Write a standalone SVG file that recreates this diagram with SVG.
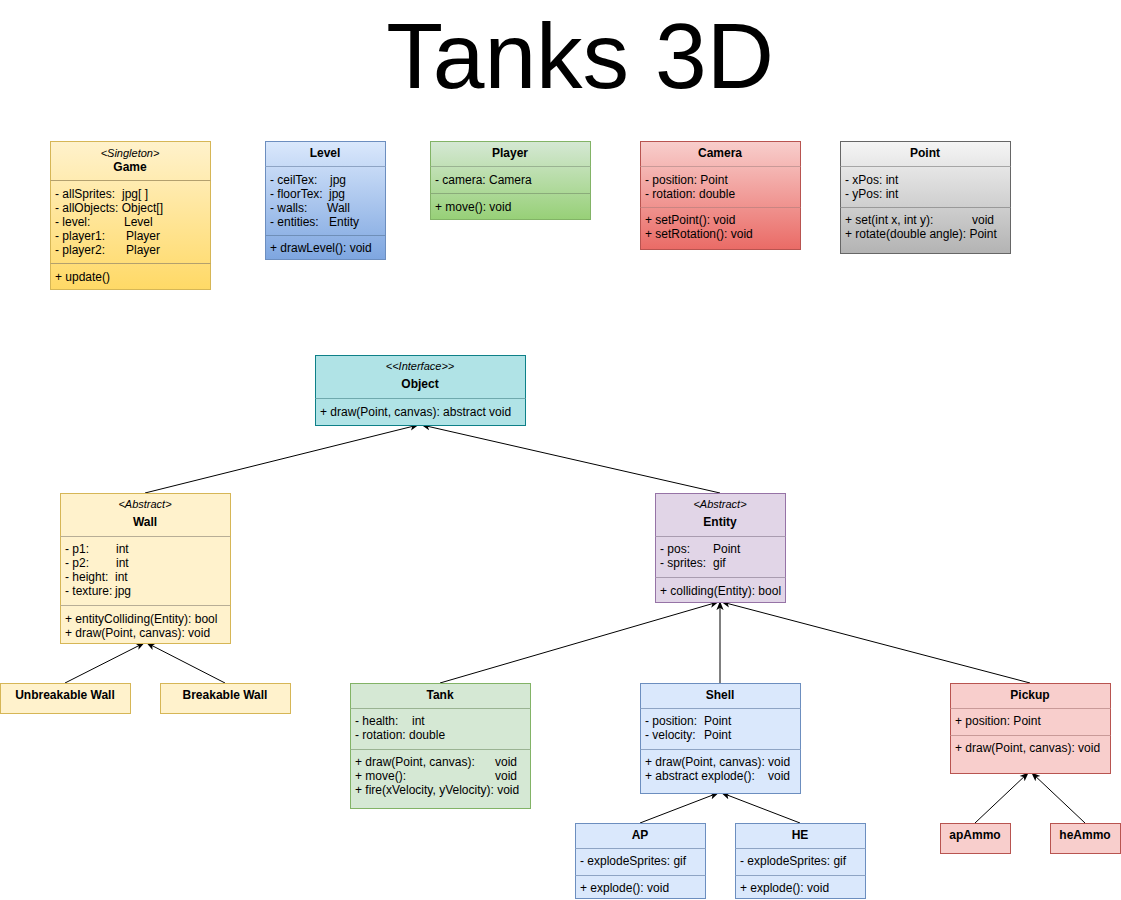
<svg xmlns="http://www.w3.org/2000/svg" width="1121" height="900" viewBox="0 0 1121 900">
<style>
text{font-family:"Liberation Sans",Arial,sans-serif;font-size:12px;fill:#000}
.t{font-size:93px}
.b{font-weight:bold;text-anchor:middle}
.s{font-style:italic;font-size:11px;text-anchor:middle}
.d{fill:none;stroke-width:1}
.c{stroke:#000;stroke-width:1;fill:none;marker-end:url(#arr)}
</style>
<defs>
<marker id="arr" viewBox="0 0 10 10" refX="9" refY="5" markerWidth="9" markerHeight="9" orient="auto" markerUnits="userSpaceOnUse">
<path d="M0,1 L10,5 L0,9 L2.5,5 Z" fill="#000"/>
</marker>
<linearGradient id="gY" x1="0" y1="0" x2="0" y2="1"><stop offset="0" stop-color="#fff2cc"/><stop offset="1" stop-color="#ffd966"/></linearGradient>
<linearGradient id="gB" x1="0" y1="0" x2="0" y2="1"><stop offset="0" stop-color="#dae8fc"/><stop offset="1" stop-color="#7ea6e0"/></linearGradient>
<linearGradient id="gG" x1="0" y1="0" x2="0" y2="1"><stop offset="0" stop-color="#d5e8d4"/><stop offset="1" stop-color="#97d077"/></linearGradient>
<linearGradient id="gR" x1="0" y1="0" x2="0" y2="1"><stop offset="0" stop-color="#f8cecc"/><stop offset="1" stop-color="#ea6b66"/></linearGradient>
<linearGradient id="gW" x1="0" y1="0" x2="0" y2="1"><stop offset="0" stop-color="#f5f5f5"/><stop offset="1" stop-color="#b3b3b3"/></linearGradient>
</defs>
<rect width="1121" height="900" fill="#fff"/>
<text class="t" x="580" y="88" text-anchor="middle">Tanks 3D</text>

<g id="connectors">
<line class="c" x1="145" y1="493" x2="418" y2="425"/>
<line class="c" x1="720" y1="493" x2="422" y2="425"/>
<line class="c" x1="65" y1="683" x2="144" y2="643"/>
<line class="c" x1="225" y1="683" x2="147" y2="643"/>
<line class="c" x1="440" y1="683" x2="718" y2="602"/>
<line class="c" x1="720" y1="683" x2="720" y2="602"/>
<line class="c" x1="1030" y1="683" x2="722" y2="602"/>
<line class="c" x1="640" y1="823" x2="718" y2="793"/>
<line class="c" x1="800" y1="823" x2="722" y2="793"/>
<line class="c" x1="975" y1="823" x2="1028" y2="773"/>
<line class="c" x1="1085" y1="823" x2="1032" y2="773"/>
</g>

<g id="game">
<rect x="50.5" y="141.5" width="160" height="148" fill="url(#gY)" stroke="#d6b656"/>
<text class="s" x="130" y="157">&lt;Singleton&gt;</text>
<text class="b" x="130" y="171">Game</text>
<line x1="50.5" y1="180.5" x2="210.5" y2="180.5" style="stroke:#b3a06e"/>
<text x="55" y="198">- allSprites:<tspan x="122">jpg[ ]</tspan></text>
<text x="55" y="212">- allObjects: Object[]</text>
<text x="55" y="226">- level:<tspan x="124">Level</tspan></text>
<text x="55" y="240">- player1:<tspan x="126">Player</tspan></text>
<text x="55" y="254">- player2:<tspan x="126">Player</tspan></text>
<line x1="50.5" y1="263.5" x2="210.5" y2="263.5" style="stroke:#b3a06e"/>
<text x="55" y="281">+ update()</text>
</g>

<g id="level">
<rect x="265.5" y="141.5" width="120" height="118" fill="url(#gB)" stroke="#6c8ebf"/>
<text class="b" x="325" y="157">Level</text>
<line x1="265.5" y1="166.5" x2="385.5" y2="166.5" style="stroke:#8ea4c4"/>
<text x="270" y="184">- ceilTex:<tspan x="330">jpg</tspan></text>
<text x="270" y="198">- floorTex:<tspan x="329">jpg</tspan></text>
<text x="270" y="212">- walls:<tspan x="327">Wall</tspan></text>
<text x="270" y="226">- entities:<tspan x="329">Entity</tspan></text>
<line x1="265.5" y1="235.5" x2="385.5" y2="235.5" style="stroke:#6f8fb8"/>
<text x="270" y="252">+ drawLevel(): void</text>
</g>

<g id="player">
<rect x="430.5" y="141.5" width="160" height="78" fill="url(#gG)" stroke="#82b366"/>
<text class="b" x="510" y="157">Player</text>
<line x1="430.5" y1="166.5" x2="590.5" y2="166.5" style="stroke:#9ab392"/>
<text x="435" y="184">- camera: Camera</text>
<line x1="430.5" y1="193.5" x2="590.5" y2="193.5" style="stroke:#8aab7a"/>
<text x="435" y="211">+ move(): void</text>
</g>

<g id="camera">
<rect x="640.5" y="141.5" width="160" height="108" fill="url(#gR)" stroke="#b85450"/>
<text class="b" x="720" y="157">Camera</text>
<line x1="640.5" y1="166.5" x2="800.5" y2="166.5" style="stroke:#c99a98"/>
<text x="645" y="184">- position: Point</text>
<text x="645" y="198">- rotation: double</text>
<line x1="640.5" y1="207.5" x2="800.5" y2="207.5" style="stroke:#c98582"/>
<text x="645" y="224">+ setPoint(): void</text>
<text x="645" y="238">+ setRotation(): void</text>
</g>

<g id="point">
<rect x="840.5" y="141.5" width="170" height="112" fill="url(#gW)" stroke="#666666"/>
<text class="b" x="925" y="157">Point</text>
<line x1="840.5" y1="166.5" x2="1010.5" y2="166.5" style="stroke:#a6a6a6"/>
<text x="845" y="184">- xPos: int</text>
<text x="845" y="198">- yPos: int</text>
<line x1="840.5" y1="207.5" x2="1010.5" y2="207.5" style="stroke:#999"/>
<text x="845" y="224">+ set(int x, int y):<tspan x="972">void</tspan></text>
<text x="845" y="238">+ rotate(double angle): Point</text>
</g>

<g id="object">
<rect x="315.5" y="355.5" width="210" height="70" fill="#b0e3e6" stroke="#0e8088"/>
<text class="s" x="420" y="370">&lt;&lt;Interface&gt;&gt;</text>
<text class="b" x="420" y="388">Object</text>
<line x1="315.5" y1="398.5" x2="525.5" y2="398.5" style="stroke:#6fa9ad"/>
<text x="320" y="416">+ draw(Point, canvas): abstract void</text>
</g>

<g id="wall">
<rect x="60.5" y="493.5" width="170" height="150" fill="#fff2cc" stroke="#d6b656"/>
<text class="s" x="145" y="508">&lt;Abstract&gt;</text>
<text class="b" x="145" y="526">Wall</text>
<line x1="60.5" y1="536.5" x2="230.5" y2="536.5" style="stroke:#b8ae96"/>
<text x="65" y="553">- p1:<tspan x="116">int</tspan></text>
<text x="65" y="567">- p2:<tspan x="116">int</tspan></text>
<text x="65" y="581">- height:<tspan x="115">int</tspan></text>
<text x="65" y="595">- texture:<tspan x="115">jpg</tspan></text>
<line x1="60.5" y1="605.5" x2="230.5" y2="605.5" style="stroke:#b8ae96"/>
<text x="65" y="623">+ entityColliding(Entity): bool</text>
<text x="65" y="637">+ draw(Point, canvas): void</text>
</g>

<g id="unbreakable-wall">
<rect x="0.5" y="683.5" width="130" height="30" fill="#fff2cc" stroke="#d6b656"/>
<text class="b" x="65" y="699">Unbreakable Wall</text>
</g>
<g id="breakable-wall">
<rect x="160.5" y="683.5" width="130" height="30" fill="#fff2cc" stroke="#d6b656"/>
<text class="b" x="225" y="699">Breakable Wall</text>
</g>

<g id="entity">
<rect x="655.5" y="493.5" width="130" height="109" fill="#e1d5e7" stroke="#9673a6"/>
<text class="s" x="720" y="508">&lt;Abstract&gt;</text>
<text class="b" x="720" y="526">Entity</text>
<line x1="655.5" y1="536.5" x2="785.5" y2="536.5" style="stroke:#a99cb0"/>
<text x="660" y="553">- pos:<tspan x="713">Point</tspan></text>
<text x="660" y="567">- sprites:<tspan x="713">gif</tspan></text>
<line x1="655.5" y1="577.5" x2="785.5" y2="577.5" style="stroke:#a99cb0"/>
<text x="660" y="595">+ colliding(Entity): bool</text>
</g>

<g id="tank">
<rect x="350.5" y="683.5" width="180" height="125" fill="#d5e8d4" stroke="#82b366"/>
<text class="b" x="440" y="699">Tank</text>
<line x1="350.5" y1="708.5" x2="530.5" y2="708.5" style="stroke:#9ab392"/>
<text x="355" y="725">- health:<tspan x="412">int</tspan></text>
<text x="355" y="739">- rotation: double</text>
<line x1="350.5" y1="749.5" x2="530.5" y2="749.5" style="stroke:#9ab392"/>
<text x="355" y="766">+ draw(Point, canvas):<tspan x="495">void</tspan></text>
<text x="355" y="780">+ move():<tspan x="495">void</tspan></text>
<text x="355" y="794">+ fire(xVelocity, yVelocity): void</text>
</g>

<g id="shell">
<rect x="640.5" y="683.5" width="160" height="110" fill="#dae8fc" stroke="#6c8ebf"/>
<text class="b" x="720" y="699">Shell</text>
<line x1="640.5" y1="708.5" x2="800.5" y2="708.5" style="stroke:#8ea4c4"/>
<text x="645" y="725">- position:<tspan x="704">Point</tspan></text>
<text x="645" y="739">- velocity:<tspan x="704">Point</tspan></text>
<line x1="640.5" y1="749.5" x2="800.5" y2="749.5" style="stroke:#8ea4c4"/>
<text x="645" y="766">+ draw(Point, canvas): void</text>
<text x="645" y="780">+ abstract explode():<tspan x="768">void</tspan></text>
</g>

<g id="pickup">
<rect x="950.5" y="683.5" width="160" height="90" fill="#f8cecc" stroke="#b85450"/>
<text class="b" x="1030" y="699">Pickup</text>
<line x1="950.5" y1="708.5" x2="1110.5" y2="708.5" style="stroke:#c99a98"/>
<text x="955" y="725">+ position: Point</text>
<line x1="950.5" y1="735.5" x2="1110.5" y2="735.5" style="stroke:#c99a98"/>
<text x="955" y="752">+ draw(Point, canvas): void</text>
</g>

<g id="ap">
<rect x="575.5" y="823.5" width="130" height="75" fill="#dae8fc" stroke="#6c8ebf"/>
<text class="b" x="640" y="839">AP</text>
<line x1="575.5" y1="848.5" x2="705.5" y2="848.5" style="stroke:#8ea4c4"/>
<text x="580" y="865">- explodeSprites: gif</text>
<line x1="575.5" y1="875.5" x2="705.5" y2="875.5" style="stroke:#8ea4c4"/>
<text x="580" y="892">+ explode(): void</text>
</g>

<g id="he">
<rect x="735.5" y="823.5" width="130" height="75" fill="#dae8fc" stroke="#6c8ebf"/>
<text class="b" x="800" y="839">HE</text>
<line x1="735.5" y1="848.5" x2="865.5" y2="848.5" style="stroke:#8ea4c4"/>
<text x="740" y="865">- explodeSprites: gif</text>
<line x1="735.5" y1="875.5" x2="865.5" y2="875.5" style="stroke:#8ea4c4"/>
<text x="740" y="892">+ explode(): void</text>
</g>

<g id="apammo">
<rect x="940.5" y="823.5" width="70" height="30" fill="#f8cecc" stroke="#b85450"/>
<text class="b" x="975" y="839">apAmmo</text>
</g>
<g id="heammo">
<rect x="1050.5" y="823.5" width="70" height="30" fill="#f8cecc" stroke="#b85450"/>
<text class="b" x="1085" y="839">heAmmo</text>
</g>
</svg>
